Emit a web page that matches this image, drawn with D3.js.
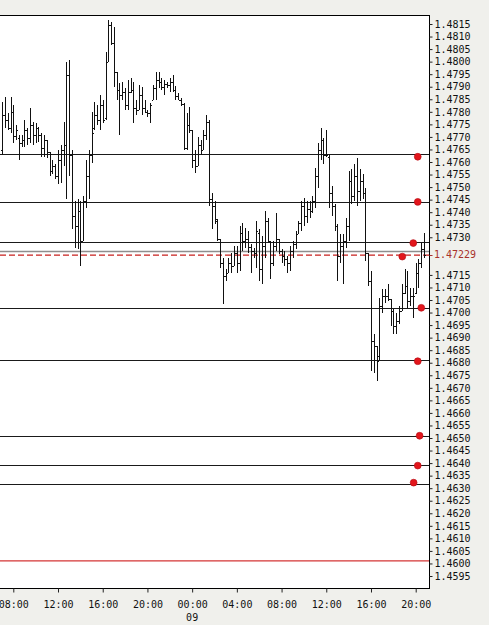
<!DOCTYPE html>
<html>
<head>
<meta charset="utf-8">
<script src="https://cdn.jsdelivr.net/npm/d3@7"></script>
<style>
  body { margin: 0; background: #f0f0ec; }
  svg text { font-family: "DejaVu Sans Mono", monospace; font-size: 10px; }
</style>
</head>
<body>
<div id="chart"></div>
<script>
// M15 bars, first bar 07:00 on the 8th
var firstBar = new Date(2009, 11, 8, 7, 0);

var opens = [
  1.47646,1.47786,1.47766,1.47734,1.47798,1.47702,1.47694,1.47674,1.47686,1.47726,
  1.47694,1.47746,1.47706,1.47734,1.47706,1.47654,1.47686,1.47638,1.47566,1.47586,
  1.47546,1.47606,1.47646,1.47666,1.47946,1.47626,1.47386,1.47346,1.47406,1.47286,
  1.47446,1.47546,1.47626,1.47734,1.47786,1.47766,1.47826,1.47774,1.47998,1.48146,
  1.48074,1.47958,1.47886,1.47866,1.47878,1.47826,1.47878,1.47886,1.47814,1.47806,
  1.47866,1.47814,1.47798,1.47794,1.47846,1.47894,1.47926,1.47918,1.47898,1.47910,
  1.47906,1.47918,1.47886,1.47862,1.47846,1.47830,1.47654,1.47746,1.47726,1.47606,
  1.47586,1.47666,1.47646,1.47706,1.47758,1.47454,1.47426,1.47366,1.47294,1.47198,
  1.47146,1.47158,1.47198,1.47186,1.47238,1.47198,1.47318,1.47286,1.47294,1.47262,
  1.47246,1.47238,1.47318,1.47174,1.47266,1.47366,1.47286,1.47198,1.47266,1.47294,
  1.47246,1.47226,1.47214,1.47198,1.47246,1.47274,1.47314,1.47358,1.47426,1.47386,
  1.47414,1.47406,1.47446,1.47546,1.47646,1.47686,1.47626,1.47618,1.47478,1.47426,
  1.47346,1.47226,1.47266,1.47286,1.47346,1.47526,1.47466,1.47546,1.47486,1.47526,
  1.47478,1.47238,1.47126,1.46886,1.46866,1.46826,1.47026,1.47066,1.47066,1.47054,
  1.47006,1.46946,1.46966,1.47006,1.47078,1.47106,1.47046,1.47066,1.47078,1.47158,
  1.47198,1.47254
];
var highs = [
  1.47838,1.47858,1.47794,1.47858,1.47826,1.47746,1.47706,1.47706,1.47766,1.47734,
  1.47814,1.47758,1.47754,1.47738,1.47714,1.47706,1.47686,1.47638,1.47606,1.47594,
  1.47646,1.47666,1.47758,1.47998,1.48006,1.47646,1.47446,1.47454,1.47446,1.47466,
  1.47606,1.47646,1.47798,1.47838,1.47826,1.47866,1.47846,1.48038,1.48166,1.48158,
  1.48138,1.47958,1.47914,1.47918,1.47894,1.47926,1.47934,1.47918,1.47846,1.47906,
  1.47898,1.47846,1.47806,1.47834,1.47906,1.47958,1.47958,1.47934,1.47926,1.47918,
  1.47934,1.47946,1.47902,1.47874,1.47854,1.47834,1.47794,1.47818,1.47726,1.47646,
  1.47698,1.47686,1.47726,1.47786,1.47766,1.47478,1.47446,1.47374,1.47294,1.47218,
  1.47174,1.47218,1.47238,1.47266,1.47266,1.47346,1.47358,1.47338,1.47326,1.47274,
  1.47258,1.47366,1.47334,1.47306,1.47406,1.47378,1.47286,1.47286,1.47398,1.47294,
  1.47254,1.47246,1.47226,1.47266,1.47286,1.47326,1.47366,1.47446,1.47458,1.47446,
  1.47446,1.47466,1.47578,1.47674,1.47734,1.47694,1.47726,1.47626,1.47506,1.47434,
  1.47354,1.47314,1.47314,1.47378,1.47566,1.47574,1.47594,1.47614,1.47574,1.47554,
  1.47498,1.47238,1.47166,1.46914,1.46866,1.47058,1.47094,1.47094,1.47114,1.47054,
  1.47014,1.46998,1.47026,1.47114,1.47174,1.47166,1.47098,1.47098,1.47198,1.47214,
  1.47278,1.47318
];
var lows = [
  1.47626,1.47734,1.47726,1.47714,1.47674,1.47686,1.47606,1.47658,1.47658,1.47666,
  1.47674,1.47666,1.47674,1.47678,1.47618,1.47618,1.47614,1.47546,1.47554,1.47534,
  1.47514,1.47518,1.47586,1.47454,1.47546,1.47334,1.47258,1.47254,1.47186,1.47286,
  1.47418,1.47454,1.47598,1.47726,1.47746,1.47726,1.47754,1.47766,1.47998,1.48066,
  1.47898,1.47846,1.47706,1.47846,1.47806,1.47806,1.47874,1.47754,1.47786,1.47806,
  1.47786,1.47794,1.47778,1.47754,1.47846,1.47846,1.47894,1.47886,1.47866,1.47894,
  1.47878,1.47878,1.47846,1.47846,1.47822,1.47646,1.47646,1.47714,1.47578,1.47558,
  1.47586,1.47626,1.47646,1.47686,1.47426,1.47334,1.47354,1.47286,1.47178,1.47034,
  1.47126,1.47158,1.47158,1.47186,1.47158,1.47166,1.47246,1.47258,1.47238,1.47158,
  1.47218,1.47178,1.47126,1.47114,1.47218,1.47278,1.47134,1.47186,1.47246,1.47234,
  1.47198,1.47186,1.47158,1.47166,1.47218,1.47254,1.47314,1.47326,1.47346,1.47358,
  1.47378,1.47398,1.47418,1.47498,1.47606,1.47594,1.47618,1.47418,1.47386,1.47326,
  1.47126,1.47198,1.47114,1.47258,1.47286,1.47434,1.47446,1.47426,1.47446,1.47454,
  1.47206,1.47106,1.46766,1.46758,1.46726,1.46806,1.46998,1.47038,1.47046,1.46946,
  1.46914,1.46914,1.46954,1.47006,1.47074,1.47018,1.47026,1.46978,1.47074,1.47098,
  1.47178,1.47218
];
var closes = [
  1.47786,1.47766,1.47734,1.47798,1.47702,1.47726,1.47674,1.47686,1.47726,1.47694,
  1.47746,1.47706,1.47734,1.47706,1.47654,1.47686,1.47638,1.47566,1.47586,1.47546,
  1.47606,1.47646,1.47666,1.47946,1.47626,1.47386,1.47346,1.47406,1.47286,1.47446,
  1.47546,1.47626,1.47714,1.47786,1.47766,1.47826,1.47766,1.47998,1.48146,1.48074,
  1.47958,1.47886,1.47866,1.47878,1.47826,1.47878,1.47886,1.47814,1.47806,1.47866,
  1.47814,1.47798,1.47794,1.47826,1.47894,1.47926,1.47918,1.47898,1.47910,1.47906,
  1.47918,1.47886,1.47862,1.47846,1.47830,1.47654,1.47746,1.47726,1.47606,1.47586,
  1.47666,1.47646,1.47706,1.47758,1.47454,1.47426,1.47374,1.47294,1.47198,1.47146,
  1.47158,1.47198,1.47186,1.47238,1.47198,1.47318,1.47286,1.47294,1.47262,1.47246,
  1.47238,1.47326,1.47174,1.47266,1.47366,1.47286,1.47198,1.47266,1.47294,1.47246,
  1.47226,1.47214,1.47198,1.47246,1.47274,1.47314,1.47358,1.47426,1.47386,1.47414,
  1.47406,1.47446,1.47546,1.47646,1.47686,1.47626,1.47626,1.47478,1.47426,1.47346,
  1.47226,1.47266,1.47286,1.47346,1.47526,1.47466,1.47546,1.47486,1.47526,1.47478,
  1.47238,1.47126,1.46886,1.46866,1.46806,1.47026,1.47066,1.47066,1.47054,1.47006,
  1.46946,1.46966,1.47006,1.47078,1.47106,1.47046,1.47066,1.47066,1.47158,1.47198,
  1.47254,1.47229
];

// horizontal level lines
var levelPrices = [1.47633, 1.47439, 1.47282, 1.47019, 1.46809, 1.46506, 1.46393, 1.46315];
var greyLinePrice = 1.47244;
var lastPrice = 1.47229;
var redLevelPrice = 1.46010;

// order markers (time on the 9th, price)
var markerTimes = ["20:11", "20:11", "19:47", "18:48", "20:30", "20:11", "20:21", "20:11", "19:49"];
var markerPrices = [1.47621, 1.47441, 1.47277, 1.47223, 1.47019, 1.46806, 1.46509, 1.46390, 1.46322];

var yTicks = [1.4815,1.4810,1.4805,1.4800,1.4795,1.4790,1.4785,1.4780,1.4775,1.4770,
              1.4765,1.4760,1.4755,1.4750,1.4745,1.4740,1.4735,1.4730,
              1.4715,1.4710,1.4705,1.4700,1.4695,1.4690,1.4685,1.4680,1.4675,1.4670,
              1.4665,1.4660,1.4655,1.4650,1.4645,1.4640,1.4635,1.4630,1.4625,1.4620,
              1.4615,1.4610,1.4605,1.4600,1.4595];
var xTickLabels = ["08:00","12:00","16:00","20:00","00:00","04:00","08:00","12:00","16:00","20:00"];
var xTickTimes = [new Date(2009,11,8,8), new Date(2009,11,8,12), new Date(2009,11,8,16), new Date(2009,11,8,20),
                  new Date(2009,11,9,0), new Date(2009,11,9,4), new Date(2009,11,9,8), new Date(2009,11,9,12),
                  new Date(2009,11,9,16), new Date(2009,11,9,20)];
var dayLabel = "09";

var W = 489, H = 625;
var plot = {left: 0, right: 429, top: 15, bottom: 588};

var svg = d3.select("#chart").append("svg")
            .attr("width", W)
            .attr("height", H);

var x = d3.scaleTime()
          .domain([xTickTimes[0], xTickTimes[xTickTimes.length - 1]])
          .range([13.3, 415.7]);

var y = d3.scaleLinear()
          .domain([1.4595, 1.4815])
          .range([576, 24]);

var bars = opens.map(function(o, i){
  return {t: d3.timeMinute.offset(firstBar, 15 * i), o: o, h: highs[i], l: lows[i], c: closes[i]};
});

svg.append("defs").append("clipPath").attr("id", "clip")
   .append("rect")
   .attr("x", plot.left).attr("y", plot.top)
   .attr("width", plot.right - plot.left).attr("height", plot.bottom - plot.top);

svg.append("rect")
   .attr("x", plot.left).attr("y", plot.top)
   .attr("width", plot.right - plot.left).attr("height", plot.bottom - plot.top)
   .attr("fill", "#fff");

var g = svg.append("g").attr("clip-path", "url(#clip)");

// level lines
g.selectAll("line.level")
 .data(levelPrices)
 .enter().append("line")
 .attr("class", "level")
 .attr("x1", plot.left).attr("x2", plot.right)
 .attr("y1", function(d){ return Math.round(y(d)) + 0.5; })
 .attr("y2", function(d){ return Math.round(y(d)) + 0.5; })
 .attr("stroke", "#1a1a1a")
 .attr("shape-rendering", "crispEdges");

g.append("line")
 .attr("x1", plot.left).attr("x2", plot.right)
 .attr("y1", Math.round(y(greyLinePrice)) + 0.5).attr("y2", Math.round(y(greyLinePrice)) + 0.5)
 .attr("stroke", "#8e8e8e").attr("stroke-width", 1.5);

g.append("line")
 .attr("x1", plot.left).attr("x2", plot.right)
 .attr("y1", y(redLevelPrice)).attr("y2", y(redLevelPrice))
 .attr("stroke", "#d43535")
 .attr("stroke-width", 1.3);

g.append("line")
 .attr("x1", plot.left).attr("x2", plot.right)
 .attr("y1", y(lastPrice)).attr("y2", y(lastPrice))
 .attr("stroke", "#c8201e")
 .attr("stroke-width", 1.4)
 .attr("stroke-dasharray", "6,3");

// OHLC bars
var barG = g.append("g").attr("class", "bars")
            .attr("stroke", "#111")
            .attr("shape-rendering", "crispEdges");

var bar = barG.selectAll("g")
              .data(bars)
              .enter().append("g");

bar.append("line")
   .attr("x1", function(d){ return Math.round(x(d.t)) + 0.5; })
   .attr("x2", function(d){ return Math.round(x(d.t)) + 0.5; })
   .attr("y1", function(d){ return y(d.h); })
   .attr("y2", function(d){ return y(d.l); });

bar.append("line")
   .attr("x1", function(d){ return Math.round(x(d.t)) - 1; })
   .attr("x2", function(d){ return Math.round(x(d.t)); })
   .attr("y1", function(d){ return Math.round(y(d.o)) + 0.5; })
   .attr("y2", function(d){ return Math.round(y(d.o)) + 0.5; });

bar.append("line")
   .attr("x1", function(d){ return Math.round(x(d.t)) + 1; })
   .attr("x2", function(d){ return Math.round(x(d.t)) + 2; })
   .attr("y1", function(d){ return Math.round(y(d.c)) + 0.5; })
   .attr("y2", function(d){ return Math.round(y(d.c)) + 0.5; });

// order markers
var parseMarker = d3.timeParse("%Y-%m-%d %H:%M");
g.selectAll("circle.marker")
 .data(markerTimes)
 .enter().append("circle")
 .attr("class", "marker")
 .attr("cx", function(d){ return x(parseMarker("2009-12-09 " + d)); })
 .attr("cy", function(d, i){ return y(markerPrices[i]); })
 .attr("r", 3.4)
 .attr("fill", "#e3161c")
 .attr("stroke", "#b80f16")
 .attr("stroke-width", 0.7);

// frame
svg.append("path")
   .attr("d", "M" + plot.left + "," + (plot.top + 0.5) + "H" + (plot.right + 0.5) +
              "V" + (plot.bottom + 0.5) + "H" + plot.left)
   .attr("fill", "none")
   .attr("stroke", "#000")
   .attr("shape-rendering", "crispEdges");

// price axis
var yAxis = svg.append("g")
   .attr("class", "axis yaxis")
   .attr("transform", "translate(" + (plot.right + 0.5) + ",0)")
   .call(d3.axisRight(y).tickValues(yTicks).tickSize(3).tickPadding(2).tickFormat(d3.format(".4f")));
yAxis.select(".domain").remove();
yAxis.selectAll("text").attr("fill", "#111").attr("font-family", null).attr("font-size", null);
yAxis.selectAll("line").attr("stroke", "#222");

svg.append("line")
   .attr("x1", plot.right + 0.5).attr("x2", plot.right + 3.5)
   .attr("y1", Math.round(y(lastPrice)) + 0.5).attr("y2", Math.round(y(lastPrice)) + 0.5)
   .attr("stroke", "#a33");
svg.append("text")
   .attr("x", plot.right + 5)
   .attr("y", y(lastPrice))
   .attr("dy", "0.32em")
   .attr("fill", "#a8322a")
   .text(d3.format(".5f")(lastPrice));

// time axis
var xAxis = svg.append("g")
   .attr("class", "axis xaxis")
   .attr("transform", "translate(0," + (plot.bottom + 0.5) + ")")
   .call(d3.axisBottom(x).tickValues(xTickTimes).tickSize(4).tickPadding(8)
           .tickFormat(function(d, i){ return xTickLabels[i]; }));
xAxis.select(".domain").remove();
xAxis.selectAll("text").attr("fill", "#111").attr("font-family", null).attr("font-size", null);
xAxis.selectAll("line").attr("stroke", "#222");

svg.append("text")
   .attr("x", x(xTickTimes[4]))
   .attr("y", 621)
   .attr("text-anchor", "middle")
   .attr("fill", "#111")
   .text(dayLabel);
</script>
</body>
</html>
